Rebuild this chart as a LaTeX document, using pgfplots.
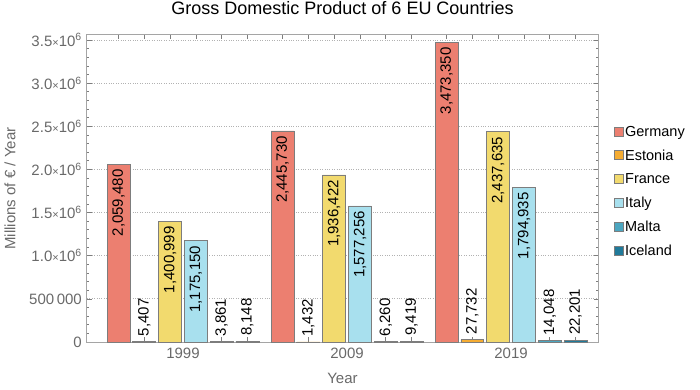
\documentclass[border=0pt]{standalone}
\usepackage{fontspec}
\setmainfont{Liberation Sans}
\usepackage{pgfplots}
\pgfplotsset{compat=1.18}
\usepackage{pgfplotstable}

\definecolor{cGer}{RGB}{236,127,112}
\definecolor{cEst}{RGB}{245,172,50}
\definecolor{cFra}{RGB}{242,218,110}
\definecolor{cIta}{RGB}{168,224,238}
\definecolor{cMal}{RGB}{76,166,192}
\definecolor{cIce}{RGB}{32,122,154}
\definecolor{edge}{RGB}{125,125,125}
\definecolor{frame}{RGB}{165,165,165}
\definecolor{ticktext}{RGB}{105,105,105}

\pgfplotstableread{
x y label
-0.393 2059480 2,059,480
0.607 2445730 2,445,730
1.607 3473350 3,473,350
}\germany
\pgfplotstableread{
x y label
-0.236 5407 5,407
0.764 1432 1,432
1.764 27732 27,732
}\estonia
\pgfplotstableread{
x y label
-0.079 1400999 1,400,999
0.921 1936422 1,936,422
1.921 2437635 2,437,635
}\france
\pgfplotstableread{
x y label
0.079 1175150 1,175,150
1.079 1577256 1,577,256
2.079 1794935 1,794,935
}\italy
\pgfplotstableread{
x y label
0.236 3861 3,861
1.236 6260 6,260
2.236 14048 14,048
}\malta
\pgfplotstableread{
x y label
0.393 8148 8,148
1.393 9419 9,419
2.393 22201 22,201
}\iceland

\pgfplotsset{
  mybar/.style={ybar, bar width=0.140, bar shift=0pt, fill=#1, draw=edge, line width=0.7pt, forget plot},
  sq/.style={legend image code/.code={\filldraw[draw=edge, fill=#1, line width=0.6pt] (0pt,-4pt) rectangle (9pt,5pt);}},
  inlab/.style={nodes near coords, point meta=explicit symbolic,
    every node near coord/.append style={rotate=90, anchor=east, inner xsep=5pt, inner ysep=0pt, black, font=\fontsize{15}{18}\selectfont}},
  outlab/.style={nodes near coords, point meta=explicit symbolic,
    every node near coord/.append style={rotate=90, anchor=west, inner xsep=5pt, inner ysep=0pt, black, font=\fontsize{15}{18}\selectfont}},
}

\begin{document}
\begin{tikzpicture}
\path[use as bounding box] (-87pt,-48pt) rectangle (613pt,342pt);
\begin{axis}[
  at={(0pt,0pt)}, anchor=south west,
  scale only axis, width=511pt, height=307pt,
  xmin=-0.585, xmax=2.530, ymin=0, ymax=3557000,
  axis line style={frame, line width=1pt},
  tick style={edge, line width=0.6pt},
  major tick length=4.5pt, minor tick length=2.5pt,
  tick pos=both,
  scaled y ticks=false,
  xtick={-0.393,-0.236,-0.079,0.079,0.236,0.393,0.607,0.764,0.921,1.079,1.236,1.393,1.607,1.764,1.921,2.079,2.236,2.393},
  xticklabels={},
  extra x ticks={0,1,2},
  extra x tick labels={1999,2009,2019},
  extra x tick style={major tick length=0pt},
  ytick={0,500000,1000000,1500000,2000000,2500000,3000000,3500000},
  yticklabels={0,500\,000,1.0{\fontsize{11}{12}\selectfont ×}10\textsuperscript{6},1.5{\fontsize{11}{12}\selectfont ×}10\textsuperscript{6},2.0{\fontsize{11}{12}\selectfont ×}10\textsuperscript{6},2.5{\fontsize{11}{12}\selectfont ×}10\textsuperscript{6},3.0{\fontsize{11}{12}\selectfont ×}10\textsuperscript{6},3.5{\fontsize{11}{12}\selectfont ×}10\textsuperscript{6}},
  minor y tick num=4,
  ymajorgrids, grid style={dotted, gray!60, line width=0.7pt},
  tick label style={font=\fontsize{15}{18}\selectfont, text=ticktext},
  yticklabel style={inner sep=0pt, xshift=-5pt},
  xticklabel style={inner sep=0pt, yshift=-6pt},
  title={Gross Domestic Product of 6 EU Countries},
  title style={at={(axis description cs:0.5,1.068)}, anchor=center, font=\fontsize{18}{21}\selectfont, black},
  xlabel={Year},
  xlabel style={at={(axis description cs:0.5,-0.117)}, anchor=center, font=\fontsize{15}{18}\selectfont, text=ticktext},
  ylabel={Millions of € / Year},
  ylabel style={at={(axis description cs:-0.1507,0.5)}, anchor=center, font=\fontsize{15}{18}\selectfont, text=ticktext},
  legend style={at={(axis description cs:1.030,0.49)}, anchor=west, draw=none, fill=none,
    font=\fontsize{14.5}{17}\selectfont, row sep=8pt, inner sep=0pt},
  legend cell align=left,
  clip=false,
]
\addplot[mybar=cGer, inlab] table[x=x,y=y,meta=label] {\germany};
\addplot[mybar=cEst, outlab] table[x=x,y=y,meta=label] {\estonia};
\addplot[mybar=cFra, inlab] table[x=x,y=y,meta=label] {\france};
\addplot[mybar=cIta, inlab] table[x=x,y=y,meta=label] {\italy};
\addplot[mybar=cMal, outlab] table[x=x,y=y,meta=label] {\malta};
\addplot[mybar=cIce, outlab] table[x=x,y=y,meta=label] {\iceland};
\addlegendimage{sq=cGer}
\addlegendimage{sq=cEst}
\addlegendimage{sq=cFra}
\addlegendimage{sq=cIta}
\addlegendimage{sq=cMal}
\addlegendimage{sq=cIce}
\legend{Germany,Estonia,France,Italy,Malta,Iceland}
\end{axis}
\end{tikzpicture}
\end{document}
